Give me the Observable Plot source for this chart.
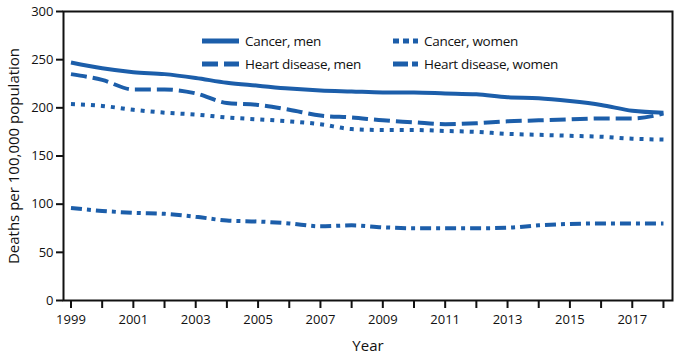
<!DOCTYPE html>
<html>
<head>
<meta charset="utf-8">
<script src="https://cdn.jsdelivr.net/npm/d3@7"></script>
<script src="https://cdn.jsdelivr.net/npm/@observablehq/plot@0.6"></script>
<style>
  html, body { margin: 0; padding: 0; background: #fff; }
  #wrap { position: relative; width: 675px; height: 355px; font-family: "Open Sans", Lato, sans-serif; }
  .leg { position: absolute; font-size: 13.5px; color: #111; display: flex; align-items: center; white-space: nowrap; letter-spacing: -0.3px; }
  .leg svg { margin-right: 6px; }
</style>
</head>
<body>
<div id="wrap"></div>
<script>
const years = [1999,2000,2001,2002,2003,2004,2005,2006,2007,2008,2009,2010,2011,2012,2013,2014,2015,2016,2017,2018];
const cancerMen    = [247,241,237,235,231,226,223,220,218,217,216,216,215,214,211,210,207,203,197,195];
const heartMen     = [235,229,219,219,215,205,203,198,192,190,187,185,183,184,186,187,188,189,189,194];
const cancerWomen  = [204,202,198,195,193,190,188,186,183,178,177,177,176,175,173,172,171,170,168,167];
const heartWomen   = [96,93,91,90,87,83,82,80,77,78,76,75,75,75,75.5,78,79.5,80,80,80];
const seriesNames = ["Cancer, men","Cancer, women","Heart disease, men","Heart disease, women"];
const yTicks = [0,50,100,150,200,250,300];
const xLabelYears = [1999,2001,2003,2005,2007,2009,2011,2013,2015,2017];

const blue = "#1c5eaa";
const dashes = {
  "Cancer, men": null,
  "Cancer, women": "4,6",
  "Heart disease, men": "16,6",
  "Heart disease, women": "11,5,4,5"
};
const dataBy = {
  "Cancer, men": cancerMen,
  "Cancer, women": cancerWomen,
  "Heart disease, men": heartMen,
  "Heart disease, women": heartWomen
};
const rows = name => years.map((y,i) => ({year: y, value: dataBy[name][i]}));

const lineMarks = seriesNames.map(name => Plot.line(rows(name), {
  x: "year", y: "value", stroke: blue, strokeWidth: 4,
  strokeDasharray: dashes[name] || undefined, curve: "monotone-x", strokeLinecap: "butt"
}));

const chart = Plot.plot({
  width: 675, height: 355,
  marginLeft: 63, marginRight: 3, marginTop: 11, marginBottom: 55,
  style: {fontFamily: "'Open Sans', Lato, sans-serif", fontSize: "13px", color: "#111", background: "#fff", overflow: "visible"},
  x: {domain: [1998.76, 2018.29]},
  y: {domain: [0, 300]},
  marks: [
    ...lineMarks,
    Plot.frame({stroke: "#111", strokeWidth: 2}),
    Plot.axisY({ticks: yTicks, tickSize: 7, tickPadding: 3, label: null, strokeWidth: 2, fontSize: 13}),
    Plot.axisX({ticks: years, tickSize: 8, tickPadding: 6, strokeWidth: 2, fontSize: 13,
      tickFormat: d => xLabelYears.includes(d) ? String(d) : "", label: null}),
    Plot.text(["Year"], {frameAnchor: "bottom", dy: 50, fontSize: 15}),
    Plot.text(["Deaths per 100,000 population"], {frameAnchor: "left", dx: -49, rotate: -90, textAnchor: "middle", fontSize: 15})
  ]
});
const wrap = document.getElementById("wrap");
wrap.appendChild(chart);

// Legend (HTML overlay)
const legendPos = {
  "Cancer, men": [202, 41],
  "Cancer, women": [393, 41],
  "Heart disease, men": [202, 64],
  "Heart disease, women": [393, 64]
};
const symLen = {"Cancer, men": 37, "Heart disease, men": 37, "Cancer, women": 25, "Heart disease, women": 25};
for (const name of seriesNames) {
  const [lx, ly] = legendPos[name];
  const div = document.createElement("div");
  div.className = "leg";
  div.style.left = lx + "px";
  div.style.top = (ly - 10) + "px";
  div.style.height = "20px";
  const L = symLen[name];
  const da = name === "Heart disease, men" ? "16,6" : name === "Heart disease, women" ? "15,4,6,10" : name === "Cancer, women" ? "6,4" : "";
  div.innerHTML = `<svg width="${L}" height="8"><line x1="0" x2="${L}" y1="4" y2="4" stroke="${blue}" stroke-width="5" ${da ? `stroke-dasharray="${da}"` : ""}/></svg><span>${name}</span>`;
  wrap.appendChild(div);
}
</script>
</body>
</html>
